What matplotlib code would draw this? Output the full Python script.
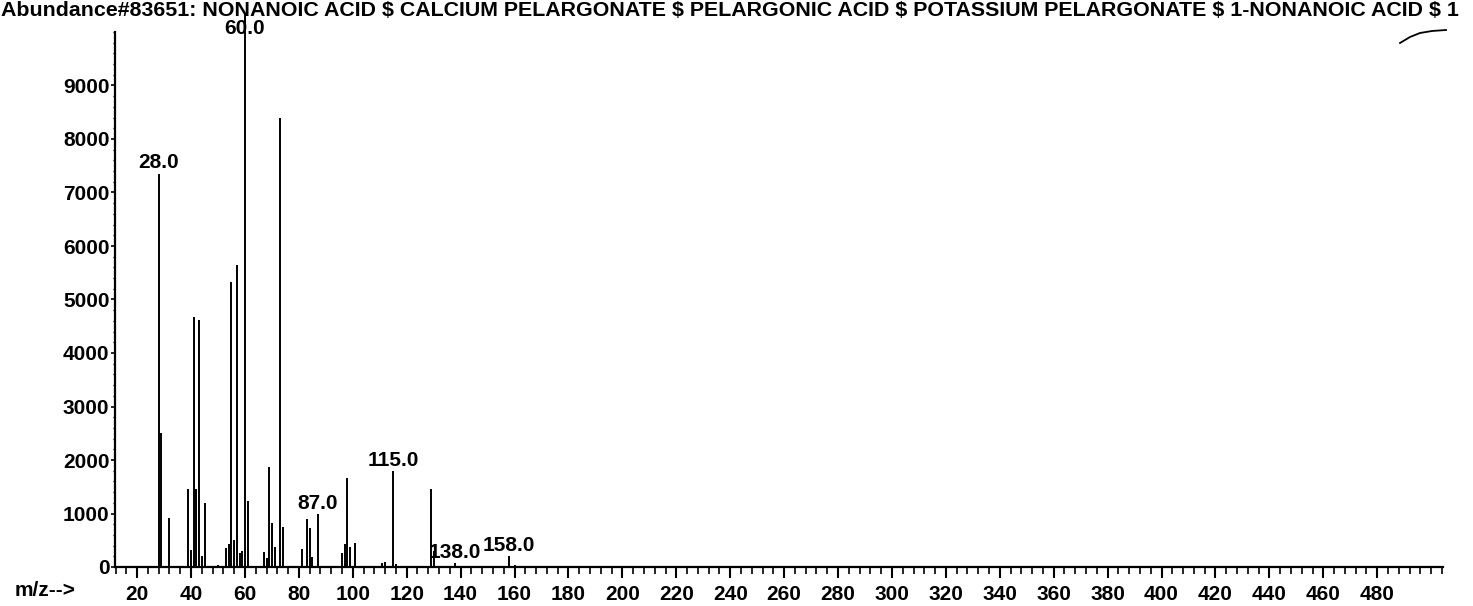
import matplotlib
matplotlib.use("Agg")
import matplotlib.pyplot as plt
from matplotlib.ticker import MultipleLocator
from matplotlib.lines import Line2D

# spectrum data
mz = [28, 29, 32, 39, 40, 41, 42, 43, 44, 45, 50, 53, 54, 55, 56, 57, 58, 59,
      60, 61, 67, 68, 69, 70, 71, 73, 74, 81, 83, 84, 85, 87, 96, 97, 98, 99,
      101, 111, 112, 115, 116, 129, 130, 138, 158, 160]
abundance = [7350, 2500, 920, 1460, 320, 4670, 1450, 4620, 200, 1190, 40, 350,
             430, 5330, 500, 5640, 260, 300, 10350, 1240, 280, 170, 1870, 820,
             370, 8390, 750, 340, 890, 730, 190, 990, 260, 430, 1660, 380, 450,
             80, 100, 1790, 60, 1460, 300, 70, 200, 40]
labelled_peaks = [28, 60, 87, 115, 138, 158]
x_ticks = list(range(20, 481, 20))
y_ticks = list(range(0, 9001, 1000))
title = ("Abundance#83651: NONANOIC ACID $ CALCIUM PELARGONATE $ PELARGONIC ACID "
         "$ POTASSIUM PELARGONATE $ 1-NONANOIC ACID $ 1")

plt.rcParams['font.family'] = ['Liberation Sans', 'DejaVu Sans']
plt.rcParams['font.weight'] = 'bold'

W, H = 1473, 606
Y_TOP = 10000
fig = plt.figure(figsize=(W / 100, H / 100), dpi=100)
ax = fig.add_axes([115 / W, 1 - 567 / H, (1443 - 115) / W, (567 - 32) / H])

ax.vlines(mz, 0, abundance, colors='black', linewidth=1.4, clip_on=False)
for m in labelled_peaks:
    a = abundance[mz.index(m)]
    # a peak running off the top gets its label drawn over the line
    off = 1 if a <= Y_TOP else -4
    ax.annotate(f"{m:.1f}", (m, min(a, Y_TOP)), xytext=(0, off), textcoords='offset points',
                ha='center', va='bottom', fontsize=15, annotation_clip=False)

ax.set_xlim(11.8, 504.4)
ax.set_ylim(0, Y_TOP)
ax.set_xticks(x_ticks)
ax.xaxis.set_minor_locator(MultipleLocator(4))
ax.set_yticks(y_ticks)
ax.yaxis.set_minor_locator(MultipleLocator(200))
ax.tick_params(axis='x', which='major', length=8, width=1.5, direction='out', labelsize=15, pad=5)
ax.tick_params(axis='x', which='minor', length=5, width=1.2, direction='out')
ax.tick_params(axis='y', which='major', length=3, width=1.2, direction='out', labelsize=15, pad=1)
ax.tick_params(axis='y', which='minor', length=1.5, width=1.0, direction='out')
for s in ['top', 'right']:
    ax.spines[s].set_visible(False)
for s in ['left', 'bottom']:
    ax.spines[s].set_linewidth(1.6)

fig.text(15 / W, 1 - 590 / H, "m/z-->", fontsize=15, va='center', ha='left')

# title fitted to the width of the page
t = fig.text(1 / W, 1 - 11 / H, title, fontsize=15, va='center', ha='left')
fig.canvas.draw()
w = t.get_window_extent().width
t.set_fontsize(15 * 1462 / w)

# cut-off axis row of the previous panel, only its lower edge shows
fig.text(5 / W, 1 + 7 / H, "m/z", fontsize=15, va='center', ha='left')
for i, lab in enumerate(range(20, 161, 20)):
    fig.text((127 + 47 * i) / W, 1 + 7 / H, str(lab), fontsize=15, va='center', ha='center')

# pen stroke on the scan, upper right
px = [1400, 1410, 1420, 1432, 1446]
py = [43, 37, 33, 31, 30]
fig.add_artist(Line2D([p / W for p in px], [1 - p / H for p in py], color='black', linewidth=1.3))

fig.savefig("out.png", dpi=100)
